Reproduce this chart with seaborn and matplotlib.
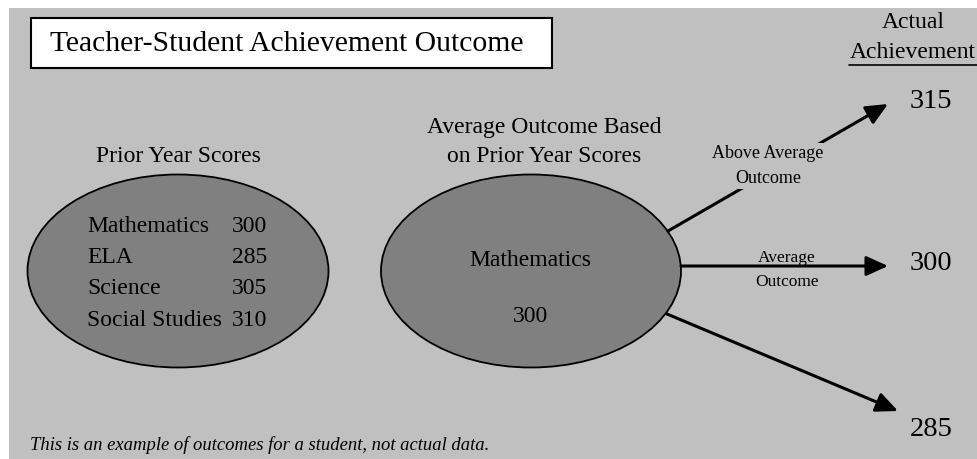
import seaborn as sns
import matplotlib.pyplot as plt
from matplotlib.patches import Ellipse, Rectangle

# data
subjects = ["Mathematics", "ELA", "Science", "Social Studies"]
prior_scores = [300, 285, 305, 310]
focus_subject = "Mathematics"
expected_score = 300
outcome_labels = ["Above Average\nOutcome", "Average\nOutcome", ""]
actual_scores = [315, 300, 285]

sns.set_theme(style="white")
plt.rcParams['font.family'] = ['Liberation Serif', 'DejaVu Serif']
plt.rcParams['text.color'] = 'black'

fig = plt.figure(figsize=(9.77, 4.59), dpi=100)
ax = fig.add_axes([0, 0, 1, 1])
ax.set_xlim(0, 977)
ax.set_ylim(459, 0)
ax.axis("off")

bg = "#c0c0c0"
ax.add_patch(Rectangle((9, 8), 968, 451, facecolor=bg, edgecolor="none", zorder=0))

# title box
ax.add_patch(Rectangle((31, 18), 521, 50, facecolor="white", edgecolor="black", lw=1.5, zorder=1))
ax.text(50, 44, "Teacher-Student Achievement Outcome", fontsize=21.3, va="center", ha="left", zorder=2)

# prior year ellipse
ax.text(178, 157, "Prior Year Scores", fontsize=17, ha="center", va="center")
ax.add_patch(Ellipse((178, 271), 301, 193, facecolor="#808080", edgecolor="black", lw=1.3, zorder=1))
for i, (s, v) in enumerate(zip(subjects, prior_scores)):
    y = 226 + i * 31.5
    ax.text(87, y, s, fontsize=17, ha="left", va="center", zorder=2)
    ax.text(232, y, str(v), fontsize=17, ha="left", va="center", zorder=2)

# average outcome ellipse
ax.text(544, 127, "Average Outcome Based", fontsize=17, ha="center", va="center")
ax.text(544, 156, "on Prior Year Scores", fontsize=17, ha="center", va="center")
ax.add_patch(Ellipse((531, 271), 300, 193, facecolor="#808080", edgecolor="black", lw=1.3, zorder=1))
ax.text(530, 260, focus_subject, fontsize=17, ha="center", va="center", zorder=2)
ax.text(531, 317, str(expected_score), fontsize=17, ha="center", va="center", zorder=2)

# actual achievement
ax.text(913, 23, "Actual", fontsize=17, ha="center", va="center")
ax.text(913, 53, "Achievement", fontsize=17, ha="center", va="center")
ax.plot([849, 977], [65, 65], color="black", lw=1.2)

starts = [(668, 231), (681, 266), (667, 314)]
tips = [(888, 104), (888, 266), (898, 411)]
value_y = [102, 263, 430]
for (x0, y0), (x1, y1), val, vy in zip(starts, tips, actual_scores, value_y):
    ax.annotate("", xy=(x1, y1), xytext=(x0, y0), zorder=2,
                arrowprops=dict(arrowstyle="-|>,head_length=1.1,head_width=0.5",
                                color="black", lw=2.2, mutation_scale=12,
                                shrinkA=0, shrinkB=0))
    ax.text(931, vy, str(val), fontsize=20.5, ha="center", va="center")

# outcome labels on the arrows
ax.text(768, 166, outcome_labels[0], fontsize=13, ha="center", va="center", linespacing=1.55,
        zorder=3, bbox=dict(facecolor=bg, edgecolor="none", pad=2))
ax.text(787, 270, outcome_labels[1], fontsize=12.5, ha="center", va="center", linespacing=1.6, zorder=3)

ax.text(30, 445, "This is an example of outcomes for a student, not actual data.",
        fontsize=13.4, style="italic", ha="left", va="center")

fig.savefig("out.png", dpi=100, facecolor="white")
